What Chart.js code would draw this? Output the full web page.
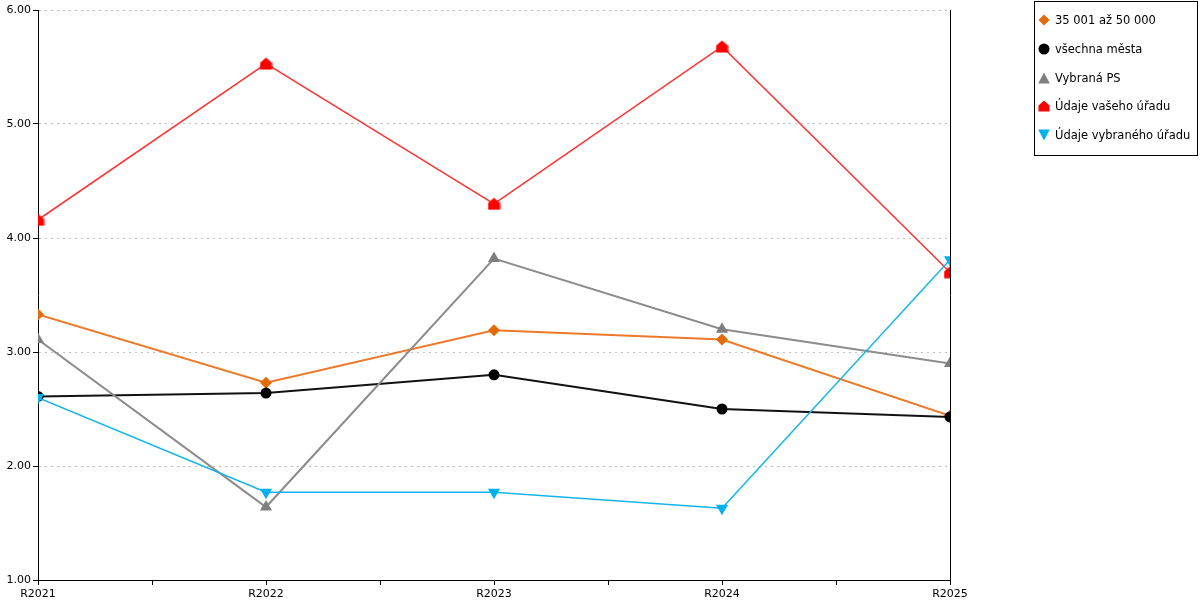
<!DOCTYPE html>
<html>
<head>
<meta charset="utf-8">
<script src="https://cdn.jsdelivr.net/npm/chart.js@4.4.1/dist/chart.umd.min.js"></script>
<style>
  html, body { margin: 0; padding: 0; background: #fff; }
  #wrap { position: relative; width: 1200px; height: 600px; }
  #c { position: absolute; left: 0; top: 0; }
  #legend { position: absolute; left: 1034px; top: 1px; width: 162px; height: 153px; border: 1px solid #000;
            font-family: "DejaVu Sans", Verdana, sans-serif; font-size: 11.5px; color: #000; box-sizing: content-box; }
  .item { position: absolute; left: 0; height: 16px; line-height: 16px; white-space: nowrap; }
  .item svg { position: absolute; left: 3px; top: 2px; }
  .item span { position: absolute; left: 20px; top: 0; }
</style>
</head>
<body>
<div id="wrap">
  <canvas id="c" width="1200" height="600"></canvas>
  <div id="legend"></div>
</div>
<script>
const categories = ['R2021', 'R2022', 'R2023', 'R2024', 'R2025'];
const seriesNames = ['35 001 až 50 000', 'všechna města', 'Vybraná PS', 'Údaje vašeho úřadu', 'Údaje vybraného úřadu'];
const orangeValues = [3.33, 2.73, 3.19, 3.11, 2.44];
const blackValues  = [2.61, 2.64, 2.80, 2.50, 2.43];
const grayValues   = [3.11, 1.64, 3.82, 3.20, 2.90];
const redValues    = [4.16, 5.53, 4.30, 5.68, 3.70];
const blueValues   = [2.60, 1.77, 1.77, 1.63, 3.81];
const yTicks = [1, 2, 3, 4, 5, 6];

function toPoints(vals) { return vals.map((v, i) => ({ x: i, y: v })); }

// house-shaped marker
function houseCanvas(size, color) {
  const c = document.createElement('canvas');
  c.width = size; c.height = size;
  const g = c.getContext('2d');
  g.fillStyle = color;
  g.beginPath();
  g.moveTo(0.5, size - 0.5);
  g.lineTo(0.5, size * 0.45);
  g.lineTo(size / 2, 0.5);
  g.lineTo(size - 0.5, size * 0.45);
  g.lineTo(size - 0.5, size - 0.5);
  g.closePath();
  g.fill();
  return c;
}
const house = houseCanvas(13, '#ff0000');

const datasets = [
  { label: seriesNames[0], data: toPoints(orangeValues), borderColor: '#ec7a2a', borderWidth: 2,
    pointStyle: 'rectRot', pointRadius: 6, pointBackgroundColor: '#e36c09', pointBorderColor: '#e36c09', pointBorderWidth: 0, order: 5 },
  { label: seriesNames[1], data: toPoints(blackValues), borderColor: '#111111', borderWidth: 2,
    pointStyle: 'circle', pointRadius: 5.5, pointBackgroundColor: '#000', pointBorderColor: '#000', pointBorderWidth: 0, order: 4 },
  { label: seriesNames[2], data: toPoints(grayValues), borderColor: '#8c8c8c', borderWidth: 2,
    pointStyle: 'triangle', pointRadius: 7, pointBackgroundColor: '#7f7f7f', pointBorderColor: '#7f7f7f', pointBorderWidth: 0, order: 3 },
  { label: seriesNames[3], data: toPoints(redValues), borderColor: '#ff3030', borderWidth: 1.5,
    pointStyle: house, pointRadius: 6, pointBackgroundColor: '#ff0000', pointBorderColor: '#ff0000', order: 2 },
  { label: seriesNames[4], data: toPoints(blueValues), borderColor: '#12b5ea', borderWidth: 1.5,
    pointStyle: 'triangle', pointRotation: 180, pointRadius: 7, pointBackgroundColor: '#00b0f0', pointBorderColor: '#00b0f0', pointBorderWidth: 0, order: 1 }
];
datasets.forEach(d => { d.fill = false; d.tension = 0; d.pointHoverRadius = d.pointRadius; });

const FONT = { family: '"DejaVu Sans", Verdana, sans-serif', size: 11 };

new Chart(document.getElementById('c'), {
  type: 'line',
  data: { datasets },
  options: {
    responsive: false,
    animation: false,
    events: [],
    layout: { padding: { left: 0, right: 250, top: 10, bottom: 0 } },
    plugins: { legend: { display: false }, tooltip: { enabled: false } },
    scales: {
      x: {
        type: 'linear', min: 0, max: categories.length - 1,
        afterBuildTicks: s => { const t = []; for (let v = 0; v <= categories.length - 1; v += 0.5) t.push({ value: v }); s.ticks = t; },
        ticks: { autoSkip: false, maxRotation: 0, padding: 3, color: '#000', font: FONT,
          callback: v => Number.isInteger(v) ? categories[v] : '' },
        grid: { drawOnChartArea: false, drawTicks: true, tickLength: 5, tickColor: '#000', color: '#000' },
        border: { display: true, color: '#000', width: 1 },
        afterFit: s => { s.height = 20; }
      },
      y: {
        type: 'linear', position: 'left', min: yTicks[0], max: yTicks[yTicks.length - 1],
        afterBuildTicks: s => { s.ticks = yTicks.map(v => ({ value: v })); },
        ticks: { color: '#000', font: FONT, padding: 2, callback: v => v.toFixed(2) },
        grid: { color: '#c0c0c0', lineWidth: 1, tickLength: 5, tickColor: '#000', tickBorderDash: [] },
        border: { display: true, color: '#000', width: 1, dash: [2, 4] },
        afterFit: s => { s.width = 38; }
      },
      y2: {
        type: 'linear', position: 'right', min: yTicks[0], max: yTicks[yTicks.length - 1],
        ticks: { display: false },
        grid: { display: false, drawTicks: false },
        border: { display: true, color: '#000', width: 1 },
        afterFit: s => { s.width = 0; }
      }
    }
  }
});

// HTML legend
const legendShapes = [
  '<svg width="12" height="12"><polygon points="6,0.5 11.5,6 6,11.5 0.5,6" fill="#e36c09"/></svg>',
  '<svg width="12" height="12"><circle cx="6" cy="6" r="5.5" fill="#000"/></svg>',
  '<svg width="12" height="12"><polygon points="6,0.5 11.8,11.5 0.2,11.5" fill="#7f7f7f"/></svg>',
  '<svg width="12" height="12"><polygon points="0.5,11.5 0.5,5.5 6,0.5 11.5,5.5 11.5,11.5" fill="#ff0000"/></svg>',
  '<svg width="12" height="12"><polygon points="0.2,0.5 11.8,0.5 6,11.5" fill="#00b0f0"/></svg>'
];
const itemTops = [10, 39, 68, 96, 125];
const leg = document.getElementById('legend');
seriesNames.forEach((n, i) => {
  const d = document.createElement('div');
  d.className = 'item';
  d.style.top = itemTops[i] + 'px';
  d.innerHTML = legendShapes[i] + '<span>' + n + '</span>';
  leg.appendChild(d);
});
</script>
</body>
</html>
